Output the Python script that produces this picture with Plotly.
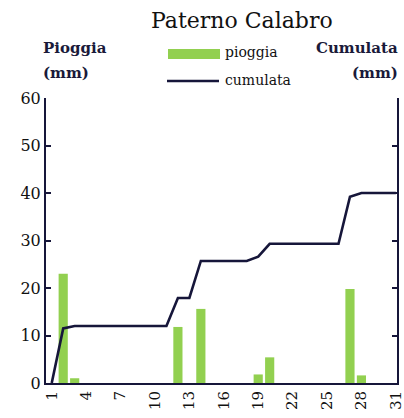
import plotly.graph_objects as go

days = list(range(1, 32))
pioggia = [0, 23, 1, 0, 0, 0, 0, 0, 0, 0, 0, 11.8, 0, 15.6, 0, 0, 0, 0, 1.8, 5.4,
           0, 0, 0, 0, 0, 0, 19.8, 1.6, 0, 0, 0]
cumulata = [0, 23, 24, 24, 24, 24, 24, 24, 24, 24, 24, 35.8, 35.8, 51.4, 51.4, 51.4,
            51.4, 51.4, 53.2, 58.6, 58.6, 58.6, 58.6, 58.6, 58.6, 58.6, 78.4, 80, 80, 80, 80]
x_ticks = [1, 4, 7, 10, 13, 16, 19, 22, 25, 28, 31]
y_ticks = [0, 10, 20, 30, 40, 50, 60]

GREEN = "#92D050"
NAVY = "#16163A"
FONT = "DejaVu Serif"

fig = go.Figure()
fig.add_trace(go.Bar(x=days, y=pioggia, marker=dict(color=GREEN, line=dict(width=0)),
                     width=0.8, name="pioggia", yaxis="y"))
fig.add_trace(go.Scatter(x=days, y=cumulata, mode="lines", line=dict(color=NAVY, width=2.6),
                         name="cumulata", yaxis="y2"))

L, R, T, B = 46, 7, 98, 35
W, H = 404, 418
pw, ph = W - L - R, H - T - B

def px(xp):
    return (xp - L) / pw

def py(yp):
    return (H - B - yp) / ph

fig.update_layout(
    width=W, height=H,
    margin=dict(l=L, r=R, t=T, b=B, autoexpand=False),
    paper_bgcolor="white", plot_bgcolor="white",
    showlegend=False,
    font=dict(family=FONT, color="#111111", size=15),
    bargap=0.2,
    xaxis=dict(range=[0.5, 31.1], tickvals=x_ticks, ticktext=[str(v) for v in x_ticks],
               tickangle=-90, showgrid=False, zeroline=False, showline=True,
               linecolor=NAVY, linewidth=2, ticks="", tickfont=dict(size=15, family=FONT),
               automargin=False, ticklabeloverflow="allow"),
    yaxis=dict(range=[0, 60], tickvals=y_ticks, showgrid=False, zeroline=False,
               showline=True, linecolor=NAVY, linewidth=2, ticks="inside", ticklen=5,
               tickcolor=NAVY, tickwidth=2, tickfont=dict(size=16, family=FONT),
               automargin=False),
    yaxis2=dict(range=[0, 120], tickvals=[0, 20, 40, 60, 80, 100, 120], overlaying="y",
                side="right", showgrid=False, zeroline=False, showline=True,
                linecolor=NAVY, linewidth=2, ticks="inside", ticklen=5, tickcolor=NAVY,
                tickwidth=2, showticklabels=False, automargin=False),
)

ann = [
    dict(text="Paterno Calabro", x=px(242), y=py(20), xanchor="center", yanchor="middle",
         font=dict(size=22, family=FONT, color="#111111")),
    dict(text="<b>Pioggia</b>", x=px(41), y=py(48), xanchor="left", yanchor="middle",
         font=dict(size=15, family=FONT, color="#1a1a3a")),
    dict(text="<b>(mm)</b>", x=px(41), y=py(73), xanchor="left", yanchor="middle",
         font=dict(size=15, family=FONT, color="#1a1a3a")),
    dict(text="<b>Cumulata</b>", x=px(400), y=py(48), xanchor="right", yanchor="middle",
         font=dict(size=15, family=FONT, color="#1a1a3a")),
    dict(text="<b>(mm)</b>", x=px(400), y=py(73), xanchor="right", yanchor="middle",
         font=dict(size=15, family=FONT, color="#1a1a3a")),
    dict(text="pioggia", x=px(223), y=py(52), xanchor="left", yanchor="middle",
         font=dict(size=14, family=FONT, color="#111111")),
    dict(text="cumulata", x=px(223), y=py(80), xanchor="left", yanchor="middle",
         font=dict(size=14, family=FONT, color="#111111")),
]
for a in ann:
    a.update(xref="paper", yref="paper", showarrow=False)
fig.update_layout(annotations=ann)

fig.add_shape(type="rect", xref="paper", yref="paper", x0=px(168), x1=px(220),
              y0=py(59), y1=py(49), fillcolor=GREEN, line=dict(width=0))
fig.add_shape(type="line", xref="paper", yref="paper", x0=px(167), x1=px(219),
              y0=py(81), y1=py(81), line=dict(color=NAVY, width=2.6))

fig.write_html("out.html", config={"displayModeBar": False},
               post_script="document.body.style.margin='0';document.body.style.overflow='hidden';")
